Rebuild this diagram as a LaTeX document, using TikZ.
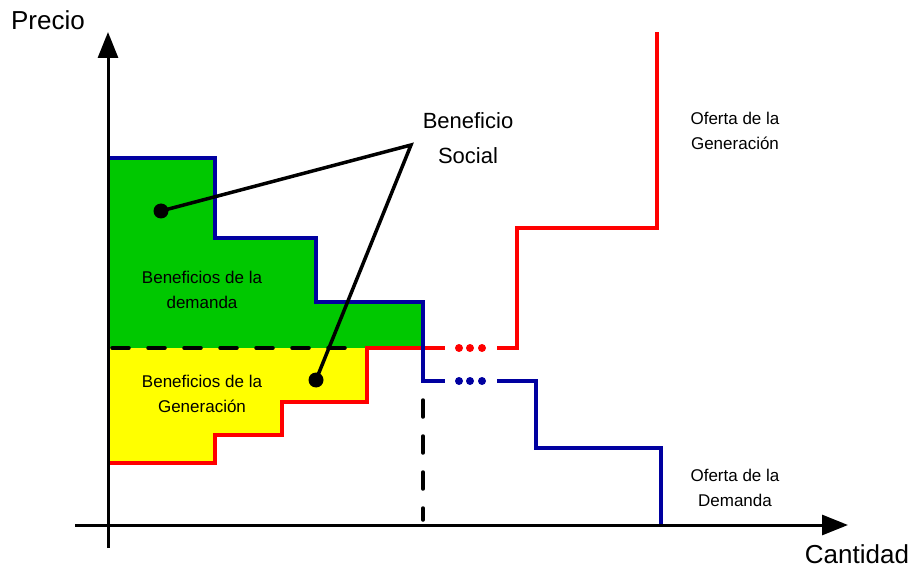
\documentclass[tikz,border=0pt]{standalone}
\usepackage{fontspec}
\setmainfont{Liberation Sans}
\usetikzlibrary{arrows.meta}
\definecolor{demandblue}{RGB}{0,0,160}
\definecolor{supplyred}{RGB}{255,0,0}
\definecolor{surplusgreen}{RGB}{0,200,0}
\definecolor{surplusyellow}{RGB}{255,255,0}
\tikzstyle{axis} = [line width=3pt, -{Triangle[length=26pt, width=20pt]}]
\tikzstyle{demand} = [line width=3.5pt, demandblue]
\tikzstyle{supply} = [line width=3.5pt, supplyred]
\tikzstyle{cut} = [line width=3.5pt, line cap=round, dash pattern=on 17pt off 19pt]
\tikzstyle{pointer} = [line width=3.5pt]
\tikzstyle{dot} = [circle, fill, inner sep=0pt, minimum size=15pt]
\tikzstyle{axistext} = [font=\fontsize{26}{30}\selectfont]
\tikzstyle{bigtext} = [align=center, font=\fontsize{22}{35}\selectfont]
\tikzstyle{smalltext} = [align=center, font=\fontsize{17}{25}\selectfont]

\begin{document}
\begin{tikzpicture}[x=1pt, y=-1pt]
    \useasboundingbox (0,0) rectangle (913,569);

    % Areas.
    \fill [surplusgreen] (108,158) -| (215,238) -| (316,302) -| (423,348) -- (108,348) -- cycle;
    \fill [surplusyellow] (108,348) -- (367,348) |- (282,402) |- (215,435) |- (108,463) -- cycle;

    % Price line.
    \draw [cut] (112,348) -- (362,348);
    \draw [cut] (423,400) -- (423,520);

    % Curves.
    \draw [supply] (108,463) -| (215,435) -| (282,402) -| (367,348) -- (445,348);
    \draw [supply] (497,348) -| (517,228) -| (657,32);
    \draw [demand] (108,158) -| (215,238) -| (316,302) -| (423,381) -- (445,381);
    \draw [demand] (497,381) -| (536,448) -| (661,525);
    \foreach \x in {459, 470, 482} {
        \fill [supplyred] (\x,348) circle (4pt);
        \fill [demandblue] (\x,381) circle (4pt);
    }

    % Axes.
    \node (price) [axistext] at (48,20) {Precio};
    \node (quantity) [axistext] at (857,554) {Cantidad};
    \coordinate (ytop) at (108,32);
    \coordinate (ybot) at (108,548);
    \coordinate (xleft) at (75,525);
    \coordinate (xright) at (848,525);
    \draw [axis] (ybot) -- (ytop);
    \draw [axis] (xleft) -- (xright);

    % Labels.
    \node (demandarea) [smalltext] at (202,290) {Beneficios de la\\demanda};
    \node (supplyarea) [smalltext] at (202,394) {Beneficios de la\\Generación};
    \node (supplycurve) [smalltext] at (735,131) {Oferta de la\\Generación};
    \node (demandcurve) [smalltext] at (735,488) {Oferta de la\\Demanda};
    \node (social) [bigtext] at (468,138) {Beneficio\\Social};

    % Pointers.
    \coordinate (apex) at (411,145);
    \node (dot1) [dot] at (161,211) {};
    \node (dot2) [dot] at (316,380) {};
    \draw [pointer] (dot1.center) -- (apex) -- (dot2.center);
\end{tikzpicture}
\end{document}
